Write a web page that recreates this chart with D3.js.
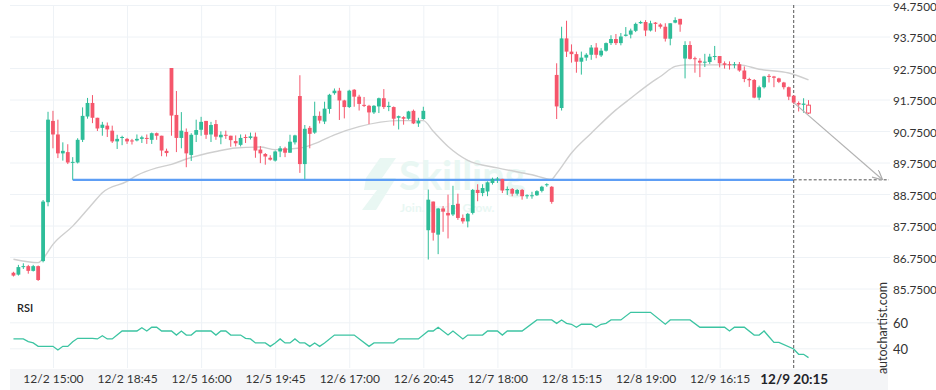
<!DOCTYPE html>
<html>
<head>
<meta charset="utf-8">
<script src="https://cdn.jsdelivr.net/npm/d3@7/dist/d3.min.js"></script>
<style>
  body { margin: 0; background: #fff; }
  svg { display: block; font-family: Lato, "Open Sans", sans-serif; }
</style>
</head>
<body>
<div id="chart"></div>
<script>
// 15 minute candles, index 0..161
const open = [86.25,86.19,86.43,86.46,86.31,86.46,86.62,88.49,91.07,90.64,90.04,90.08,89.74,89.75,90.47,91.21,91.64,91.17,90.85,90.92,
  90.76,90.42,90.53,90.50,90.45,90.45,90.50,90.53,90.47,90.68,90.60,90.12,92.75,91.26,90.53,90.72,89.99,90.63,90.79,91.07,
  90.64,90.97,90.55,90.63,90.60,90.43,90.31,90.56,90.53,90.57,90.16,90.02,89.90,89.81,90.10,90.20,90.06,90.39,91.86,89.70,
  90.85,90.70,91.23,91.05,91.45,91.95,92.03,91.72,91.51,92.06,91.84,91.58,91.55,91.34,91.53,91.79,91.51,91.51,91.17,91.19,
  91.14,91.39,90.99,91.13,87.60,88.51,87.46,88.29,88.15,88.10,88.44,87.99,87.88,88.15,88.88,88.78,88.83,89.10,89.21,89.23,
  88.87,88.91,88.76,88.88,88.68,88.68,88.71,88.85,89.03,88.98,92.53,91.48,93.69,93.27,93.19,92.95,93.08,93.17,93.40,93.15,
  93.30,93.54,93.67,93.54,93.77,93.81,93.93,94.17,94.21,93.94,94.19,94.13,94.06,93.68,94.19,94.31,93.05,93.48,93.06,92.98,
  92.93,92.94,93.11,93.13,92.90,92.87,92.84,92.87,92.67,92.40,92.37,91.81,92.14,92.50,92.48,92.42,92.29,92.14,91.87,91.64,
  91.58,91.57];
const high = [86.28,86.50,86.55,86.50,86.50,86.48,88.56,91.36,91.39,91.11,90.39,90.33,89.92,90.52,91.50,91.80,91.89,91.17,91.04,91.02,
  90.92,90.63,90.60,90.53,90.50,90.64,90.60,90.64,90.70,90.70,90.60,90.19,92.75,92.02,91.35,90.83,90.68,91.11,91.20,91.07,
  91.04,91.10,90.74,90.76,90.60,90.61,90.64,90.64,90.70,90.70,90.27,90.05,89.98,90.13,90.27,90.25,90.63,90.63,92.52,90.94,
  90.91,91.68,91.37,91.68,91.93,92.10,92.12,91.74,92.06,92.08,91.90,91.83,91.58,91.57,91.81,92.08,91.68,91.53,91.24,91.22,
  91.39,91.43,91.17,91.52,88.89,88.51,88.31,88.37,88.73,89.01,88.76,88.10,88.15,88.91,89.06,89.06,89.15,89.27,89.29,89.23,
  88.99,88.94,88.91,88.91,88.74,88.82,88.87,89.01,89.09,89.00,92.90,94.06,94.25,93.50,93.27,93.27,93.22,93.48,93.54,93.38,
  93.56,93.79,93.83,93.86,94.05,94.00,94.19,94.25,94.27,94.25,94.21,94.17,94.17,94.17,94.36,94.31,93.60,93.60,93.11,93.06,
  93.20,93.20,93.45,93.13,92.96,92.96,92.94,92.94,92.80,92.44,92.40,92.19,92.50,92.56,92.50,92.44,92.31,92.16,91.87,91.69,
  91.79,91.73];
const low = [86.13,86.16,86.37,86.22,86.29,85.99,86.58,88.36,90.20,89.89,89.81,89.70,89.20,89.72,90.40,91.14,91.00,90.75,90.60,90.56,
  90.37,90.18,90.30,90.34,90.32,90.42,90.37,90.34,90.34,90.47,89.95,89.94,90.60,90.08,90.20,89.60,89.80,90.40,90.60,90.50,
  90.40,90.47,90.33,90.50,90.25,90.26,90.26,90.37,90.48,89.90,89.73,89.68,89.81,89.78,89.92,89.92,90.06,90.32,89.42,89.22,
  90.20,90.66,90.99,90.97,91.30,91.90,91.10,91.15,91.48,91.52,91.40,91.51,90.97,91.29,91.32,91.45,91.38,90.92,90.80,90.95,
  91.11,90.97,90.88,91.11,86.67,87.27,86.84,87.55,87.34,88.05,87.93,87.81,87.69,88.10,88.52,88.68,88.68,89.05,89.10,88.78,
  88.72,88.68,88.70,88.57,88.60,88.60,88.69,88.80,88.98,88.44,91.13,91.40,93.10,92.92,92.60,92.54,92.98,93.01,93.06,93.10,
  93.27,93.48,93.48,93.47,93.75,93.69,93.89,94.15,93.76,93.91,93.90,94.00,93.59,93.47,94.17,93.90,92.42,93.02,92.60,92.46,
  92.78,92.88,93.00,92.77,92.73,92.70,92.74,92.63,92.30,92.15,91.79,91.73,92.10,92.29,92.14,92.27,92.07,91.73,91.60,91.37,
  91.33,91.29];
const close = [86.16,86.43,86.46,86.31,86.46,86.02,88.51,91.11,90.64,90.04,90.12,89.75,89.77,90.47,91.23,91.64,91.17,90.83,90.95,90.80,
  90.42,90.50,90.56,90.42,90.42,90.50,90.55,90.50,90.68,90.60,90.13,90.05,91.24,90.53,90.76,90.04,90.63,90.78,91.04,90.63,
  90.94,90.57,90.63,90.60,90.46,90.36,90.53,90.53,90.58,90.13,90.04,89.94,89.84,90.10,90.20,90.06,90.41,90.61,89.70,90.82,
  90.66,91.23,91.08,91.46,91.90,92.03,91.72,91.51,92.03,91.84,91.61,91.55,91.34,91.55,91.79,91.51,91.55,91.14,91.22,91.14,
  91.37,90.99,91.07,91.39,88.57,87.52,88.29,88.19,88.07,88.40,87.99,87.88,88.12,88.88,88.78,88.94,89.12,89.23,89.24,88.86,
  88.91,88.76,88.88,88.68,88.71,88.71,88.84,88.98,89.06,88.50,91.53,93.69,93.27,93.19,92.95,93.08,93.17,93.40,93.17,93.30,
  93.54,93.67,93.54,93.75,93.81,93.94,94.15,94.21,93.94,94.17,94.15,94.06,93.68,94.17,94.27,94.13,93.48,93.04,93.03,92.92,
  92.95,93.11,93.13,92.90,92.85,92.84,92.87,92.67,92.40,92.36,91.81,92.14,92.48,92.47,92.44,92.31,92.14,91.84,91.65,91.59,
  91.62,91.32];

// grey moving average, read at its turning points
const maIdx = [0,5,6,8,12,16,18,23,25,29,32,35,41,45,50,53,58,61,65,70,78,83,85,88,92,98,105,109,110,113,117,122,125,129,131,134,136,147,151,157,161];
const maVal = [86.68,86.57,86.70,87.15,87.73,88.44,88.79,89.15,89.34,89.58,89.69,89.86,90.10,90.21,90.24,90.16,90.21,90.35,90.63,90.89,91.08,91.08,90.74,90.26,89.82,89.58,89.36,89.22,89.40,90.05,90.68,91.42,91.79,92.27,92.48,92.80,92.85,92.85,92.71,92.59,92.37];

// RSI vertices
const rsiIdx = [0,2,3,4,5,8,9,10,11,12,13,16,17,18,19,20,22,25,26,27,28,29,30,32,33,34,35,36,37,40,41,42,43,44,46,47,48,49,51,52,53,54,55,56,57,58,59,60,61,62,63,65,69,72,73,77,78,82,84,85,86,88,89,91,92,95,96,98,99,100,103,106,109,110,111,112,113,114,115,117,118,119,120,121,123,125,129,132,133,137,139,144,145,146,148,150,151,152,153,154,155,158,159,160,161];
const rsiVal = [47.2,47.2,45.1,44.1,41.5,41.5,38.7,41.5,41.5,45.1,47.7,47.7,47.2,49.7,47.2,47.2,53.3,53.3,55.8,53.3,56.2,56.2,53.3,53.3,50.2,53.3,50.2,50.2,53.3,53.3,50.2,53.3,53.3,50.2,50.2,47.7,47.2,44.1,44.1,41.5,44.1,47.2,44.1,44.1,47.2,44.1,44.1,41.5,44.1,41.5,44.1,50.2,50.2,41.5,44.1,44.1,47.2,47.2,53.3,53.3,56.2,50.2,53.3,47.2,50.2,50.2,53.3,53.3,50.2,53.3,53.3,61.8,61.8,59.2,61.8,59.2,58.5,56.2,58.5,58.5,56.2,58.5,59.2,61.8,61.8,67.7,67.7,58.5,61.8,61.8,56.2,56.2,53.3,56.2,56.2,50.2,50.2,53.3,48.9,44.6,44.6,39.5,35.4,35.4,32.8];

const tickIdx = [8,23,38,53,68,83,98,113,128,143,158];
const tickLabels = ["12/2 15:00","12/2 18:45","12/5 16:00","12/5 19:45","12/6 17:00","12/6 20:45","12/7 18:00","12/8 15:15","12/8 19:00","12/9 16:15","12/9 20:15"];
const priceTicks = [94.75,93.75,92.75,91.75,90.75,89.75,88.75,87.75,86.75,85.75];
const rsiTicks = [60,40];

const supportLevel = 89.2, supportFrom = 12, nowIdx = 158;
const forecastFrom = [158, 91.65], forecastTo = [176, 89.2];

const W = 936, H = 390;
const green = "#2ebd99", red = "#f5566b";

const svg = d3.select("#chart").append("svg")
    .attr("width", W)
    .attr("height", H);

const x = d3.scaleLinear().domain([-0.7, 177.5]).range([10, 890]);
const y = d3.scaleLinear().domain([85.75, 94.75]).range([288.5, 5]);
const yr = d3.scaleLinear().domain([40, 60]).range([348.3, 322.3]);

// date band
svg.append("rect")
    .attr("x", 10).attr("y", 369).attr("width", 878).attr("height", 21)
    .attr("fill", "#f4f5f7");

// grid
svg.append("g")
    .attr("transform", "translate(10,0)")
    .call(d3.axisRight(y).tickValues(priceTicks).tickSize(880).tickFormat(""))
    .call(g => g.select(".domain").remove())
    .selectAll("line").attr("stroke", "#eef2f6");

svg.append("g")
    .attr("transform", "translate(10,0)")
    .call(d3.axisRight(yr).tickValues(rsiTicks).tickSize(880).tickFormat(""))
    .call(g => g.select(".domain").remove())
    .selectAll("line").attr("stroke", "#eef2f6");

svg.append("g")
    .attr("transform", "translate(0,5)")
    .call(d3.axisBottom(x).tickValues(tickIdx.slice(0, -1)).tickSize(363).tickFormat(""))
    .call(g => g.select(".domain").remove())
    .selectAll("line").attr("stroke", "#eef2f6");

// watermark
const wm = svg.append("g").attr("fill", "#e9f7f3");
wm.append("polygon")
    .attr("points", "380,158 396,158 382,178 396,178 376,210 362,210 377,190 364,190 366,178");
wm.append("text")
    .attr("x", 399).attr("y", 190)
    .attr("font-size", 40).attr("font-weight", 700)
    .text("Skilling");
wm.append("text")
    .attr("x", 400).attr("y", 212)
    .attr("font-size", 12).attr("font-weight", 700)
    .text("Join. Trade. Grow.");

// moving average
svg.append("path")
    .datum(maIdx.map((d, i) => [d, maVal[i]]))
    .attr("fill", "none")
    .attr("stroke", "#cfcfcf")
    .attr("stroke-width", 1.4)
    .attr("d", d3.line().x(d => x(d[0])).y(d => y(d[1])).curve(d3.curveMonotoneX));

// support line
svg.append("line")
    .attr("x1", x(supportFrom)).attr("x2", x(nowIdx))
    .attr("y1", y(supportLevel)).attr("y2", y(supportLevel))
    .attr("stroke", "#5e9ef5").attr("stroke-width", 2.2);

svg.append("line")
    .attr("x1", x(nowIdx)).attr("x2", 889)
    .attr("y1", y(supportLevel)).attr("y2", y(supportLevel))
    .attr("stroke", "#555").attr("stroke-dasharray", "3,2");

svg.append("line")
    .attr("x1", x(nowIdx)).attr("x2", x(nowIdx))
    .attr("y1", 5).attr("y2", 369)
    .attr("stroke", "#555").attr("stroke-dasharray", "3,2");

// candles
const candles = open.map((o, i) => ({i, o, h: high[i], l: low[i], c: close[i]}));
const last = candles.length - 1;
const bw = 3.8;

const cg = svg.append("g");
cg.selectAll(".wick")
    .data(candles)
    .enter().append("line")
    .attr("x1", d => x(d.i)).attr("x2", d => x(d.i))
    .attr("y1", d => y(d.h)).attr("y2", d => y(d.l))
    .attr("stroke", d => d.c >= d.o ? green : red)
    .attr("stroke-width", 1);

cg.selectAll(".body")
    .data(candles)
    .enter().append("rect")
    .attr("x", d => x(d.i) - bw / 2)
    .attr("width", bw)
    .attr("y", d => y(Math.max(d.o, d.c)))
    .attr("height", d => Math.max(1, Math.abs(y(d.o) - y(d.c))))
    .attr("fill", d => d.i === last ? "#fff" : (d.c >= d.o ? green : red))
    .attr("stroke", d => d.i === last ? red : "none")
    .attr("stroke-width", 1);

// forecast arrow
svg.append("defs").append("marker")
    .attr("id", "arr")
    .attr("viewBox", "0 0 10 10")
    .attr("refX", 10).attr("refY", 5)
    .attr("markerWidth", 10).attr("markerHeight", 10)
    .attr("markerUnits", "userSpaceOnUse")
    .attr("orient", "auto")
    .append("path")
    .attr("d", "M0,0 L10,5 L0,10")
    .attr("fill", "none")
    .attr("stroke", "#aaa")
    .attr("stroke-width", 1.2);

svg.append("line")
    .attr("x1", x(forecastFrom[0])).attr("y1", y(forecastFrom[1]))
    .attr("x2", x(forecastTo[0])).attr("y2", y(forecastTo[1]))
    .attr("stroke", "#b3b3b3").attr("stroke-width", 1.2)
    .attr("marker-end", "url(#arr)");

// RSI
svg.append("path")
    .datum(rsiIdx.map((d, i) => [d, rsiVal[i]]))
    .attr("fill", "none")
    .attr("stroke", "#3cc4a2")
    .attr("stroke-width", 1.3)
    .attr("d", d3.line().x(d => x(d[0])).y(d => yr(d[1])));

svg.append("text")
    .attr("x", 17).attr("y", 312)
    .attr("font-size", 11).attr("font-weight", 600).attr("fill", "#222")
    .text("RSI");

// price axis
svg.append("g")
    .attr("transform", "translate(890,1.5)")
    .call(d3.axisRight(y).tickValues(priceTicks).tickSize(0).tickPadding(3).tickFormat(d3.format(".4f")))
    .call(g => g.select(".domain").remove())
    .selectAll("text")
    .attr("font-family", "Lato, sans-serif")
    .attr("font-size", 11.8)
    .attr("fill", "#333");

svg.append("g")
    .attr("transform", "translate(890,1.5)")
    .call(d3.axisRight(yr).tickValues(rsiTicks).tickSize(0).tickPadding(3))
    .call(g => g.select(".domain").remove())
    .selectAll("text")
    .attr("font-family", "Lato, sans-serif")
    .attr("font-size", 13)
    .attr("fill", "#333");

// time axis
const xa = svg.append("g")
    .attr("transform", "translate(0,370)")
    .call(d3.axisBottom(x).tickValues(tickIdx).tickSize(0).tickPadding(4)
        .tickFormat((d, i) => tickLabels[i]));
xa.select(".domain").remove();
xa.selectAll("text")
    .attr("font-family", "Lato, sans-serif")
    .attr("font-size", 12)
    .attr("fill", "#333");
xa.selectAll("text").filter((d, i) => i === tickIdx.length - 1)
    .attr("font-size", 13.5)
    .attr("font-weight", 700)
    .attr("fill", "#1f2328");

svg.append("text")
    .attr("transform", "translate(887,328) rotate(-90)")
    .attr("text-anchor", "middle")
    .attr("font-family", "Lato, sans-serif")
    .attr("font-size", 12.5)
    .attr("fill", "#333")
    .text("autochartist.com");
</script>
</body>
</html>
